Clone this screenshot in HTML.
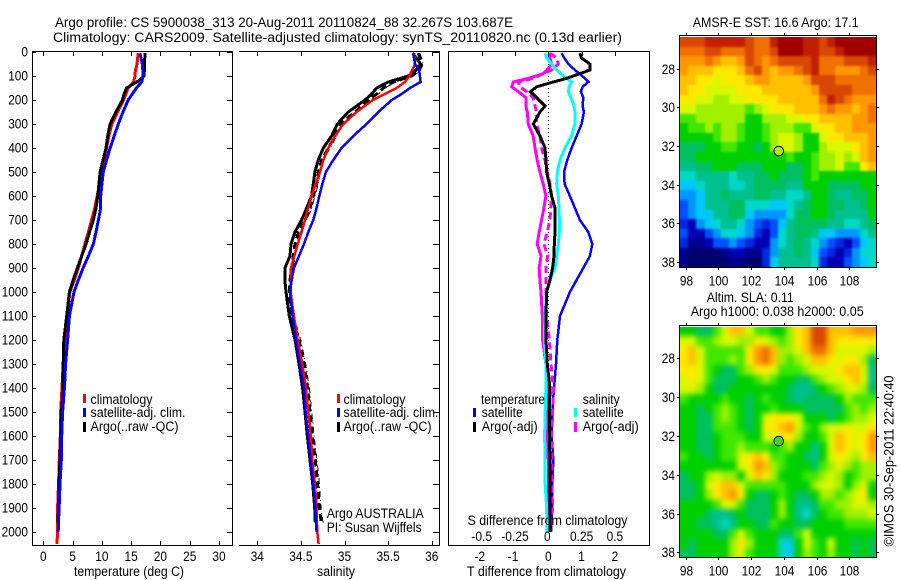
<!DOCTYPE html>
<html lang="en">
<head>
<meta charset="utf-8">
<title>Argo profile</title>
<style>
html,body{margin:0;padding:0;background:#fff;}
svg{display:block;}
text{font-family:"Liberation Sans",sans-serif;font-size:13.5px;fill:#000;}
</style>
</head>
<body>
<svg id="fig" xmlns="http://www.w3.org/2000/svg" width="900" height="580" viewBox="0 0 900 580">
<defs>
<filter id="blur-sst" x="-5%" y="-5%" width="110%" height="110%" color-interpolation-filters="sRGB"><feGaussianBlur stdDeviation="1"/></filter>
<filter id="blur-sla" x="-5%" y="-5%" width="110%" height="110%" color-interpolation-filters="sRGB"><feGaussianBlur stdDeviation="2.6"/></filter>
<clipPath id="clip-sst"><rect x="680" y="37" width="196" height="230"/></clipPath>
<clipPath id="clip-sla"><rect x="680" y="327" width="196" height="230"/></clipPath>
</defs>
<rect x="0" y="0" width="900" height="580" fill="#fff"/>
<text lengthAdjust="spacingAndGlyphs" x="55" y="27" textLength="458">Argo profile: CS 5900038_313 20-Aug-2011 20110824_88 32.267S 103.687E</text>
<text lengthAdjust="spacingAndGlyphs" x="53" y="42" textLength="569">Climatology: CARS2009. Satellite-adjusted climatology: synTS_20110820.nc (0.13d earlier)</text>
<g id="marks"></g>
<g shape-rendering="crispEdges" fill="none" stroke="#000">
<rect x="32.5" y="51.5" width="200" height="494"/>
<path d="M239 51.5H439.5V545.5H239"/>
<rect x="448.5" y="51.5" width="201" height="494"/>
</g>
<g id="ticks"></g>
<text lengthAdjust="spacingAndGlyphs" x="74" y="576" textLength="110">temperature (deg C)</text>
<text lengthAdjust="spacingAndGlyphs" x="317" y="576" textLength="38">salinity</text>
<text lengthAdjust="spacingAndGlyphs" x="467" y="576" textLength="159">T difference from climatology</text>
<text lengthAdjust="spacingAndGlyphs" x="467.5" y="525" textLength="160">S difference from climatology</text>

<g shape-rendering="crispEdges">
<rect x="83" y="394" width="3" height="9" fill="#f00"/>
<rect x="83" y="408" width="3" height="9" fill="#00f"/>
<rect x="83" y="422" width="3" height="10" fill="#000"/>
<rect x="337" y="394" width="3" height="9" fill="#f00"/>
<rect x="337" y="408" width="3" height="9" fill="#00f"/>
<rect x="337" y="422" width="3" height="10" fill="#000"/>
<rect x="473" y="408" width="3" height="9" fill="#00f"/>
<rect x="473" y="422" width="3" height="10" fill="#000"/>
<rect x="574" y="408" width="3" height="9" fill="#0ff"/>
<rect x="574" y="422" width="3" height="10" fill="#f0f"/>
</g>
<text lengthAdjust="spacingAndGlyphs" x="90.5" y="404" textLength="62">climatology</text>
<text lengthAdjust="spacingAndGlyphs" x="90.5" y="417" textLength="95">satellite-adj. clim.</text>
<text lengthAdjust="spacingAndGlyphs" x="90.5" y="431" textLength="88">Argo(..raw -QC)</text>
<text lengthAdjust="spacingAndGlyphs" x="343.5" y="404" textLength="62">climatology</text>
<text lengthAdjust="spacingAndGlyphs" x="343.5" y="417" textLength="95">satellite-adj. clim.</text>
<text lengthAdjust="spacingAndGlyphs" x="343.5" y="431" textLength="88">Argo(..raw -QC)</text>
<text lengthAdjust="spacingAndGlyphs" x="326.7" y="518" textLength="97">Argo AUSTRALIA</text>
<text lengthAdjust="spacingAndGlyphs" x="326.7" y="532" textLength="95">PI: Susan Wijffels</text>
<text lengthAdjust="spacingAndGlyphs" x="481" y="404" textLength="64">temperature</text>
<text lengthAdjust="spacingAndGlyphs" x="582.7" y="404" textLength="37">salinity</text>
<text lengthAdjust="spacingAndGlyphs" x="481.7" y="417" textLength="41">satellite</text>
<text lengthAdjust="spacingAndGlyphs" x="481.7" y="431" textLength="56">Argo(-adj)</text>
<text lengthAdjust="spacingAndGlyphs" x="582.7" y="417" textLength="41">satellite</text>
<text lengthAdjust="spacingAndGlyphs" x="582.7" y="431" textLength="56">Argo(-adj)</text>

<text lengthAdjust="spacingAndGlyphs" x="692.7" y="27" textLength="166">AMSR-E SST: 16.6 Argo: 17.1</text>
<text lengthAdjust="spacingAndGlyphs" x="706.7" y="302" textLength="87">Altim. SLA: 0.11</text>
<text lengthAdjust="spacingAndGlyphs" x="690.7" y="316" textLength="173">Argo h1000: 0.038 h2000: 0.05</text>
<g id="maps"></g>
<text lengthAdjust="spacingAndGlyphs" transform="translate(893.5,546.5) rotate(-90)" x="0" y="0" textLength="171">©IMOS 30-Sep-2011 22:40:40</text>
</svg>

<script>
/* ---------- profile data ---------- */
var depths = [5,50,80,100,125,150,175,200,250,300,350,400,450,500,550,600,650,700,750,800,850,900,950,1000,1100,1200,1300,1400,1500,1600,1700,1800,1900,1960,2000,2050];
var tempClimatology = [16.2,16.0,15.7,15.65,15.4,14.5,14.1,13.7,12.7,11.7,11.2,10.8,10.4,10.0,9.6,9.2,8.8,8.25,7.7,7.1,6.55,6.0,5.3,4.55,4.1,3.7,3.4,3.2,2.96,2.9,2.73,2.6,2.45,2.45,2.45,2.33];
var tempSatellite = [16.5,16.9,17.0,17.0,16.8,15.9,15.2,14.5,13.6,12.8,12.1,11.4,10.8,10.25,10.0,9.8,9.8,9.4,9.0,8.55,7.7,6.8,6.0,5.25,4.45,4.15,3.8,3.6,3.3,3.15,3.07,2.85,2.7,2.6,2.55,null];
var tempArgo = [17.35,17.3,17.25,17.2,16.0,14.2,13.8,13.5,12.4,11.4,11.0,10.7,10.2,9.7,9.5,9.3,9.0,8.55,7.9,7.3,6.55,5.8,5.1,4.45,4.0,3.5,3.4,3.4,3.1,2.95,2.85,2.7,2.6,2.5,null,null];
var salClimatology = [35.80,35.808,35.77,35.743,35.693,35.598,35.464,35.323,35.139,34.986,34.891,34.814,34.757,34.719,34.669,34.623,34.585,34.547,34.508,34.463,34.424,34.386,34.382,34.382,34.42,34.463,34.516,34.558,34.585,34.615,34.631,34.661,34.68,34.684,34.688,34.703];
var salSatellite = [35.789,35.808,35.858,35.865,35.873,35.751,35.655,35.541,35.388,35.254,35.101,34.967,34.872,34.787,34.745,34.711,34.68,34.642,34.585,34.535,34.478,34.42,34.394,34.375,34.405,34.443,34.489,34.535,34.554,34.585,34.612,34.642,34.665,34.673,34.68,null];
var salArgoQc = [35.781,35.873,35.808,35.732,35.502,35.369,35.311,35.235,35.044,34.917,34.852,34.757,34.70,34.661,34.642,34.623,34.566,34.508,34.432,34.386,34.375,34.317,34.317,34.329,34.367,34.432,34.478,34.52,34.547,34.573,34.604,34.635,34.658,34.665,null,null];
var salArgoRaw = [35.846,35.885,35.846,35.77,35.56,35.445,35.369,35.273,35.12,34.948,34.891,34.814,34.738,34.70,34.68,34.642,34.604,34.547,34.47,34.432,34.413,34.394,34.375,34.367,34.394,34.478,34.535,34.577,34.604,34.631,34.665,34.692,34.711,34.734,null,null];

var diffDepths = [5,25,50,75,90,110,125,145,165,190,225,250,300,350,400,450,500,550,600,650,700,750,800,850,900,950,1000,1100,1200,1300,1400,1500,1600,1700,1800,1900,2000];
var tDiffSatellite = [.40,.48,.60,.80,.93,1.10,1.20,1.03,.98,1.05,1.03,1.07,1.00,.85,.70,.57,.47,.49,.65,.80,.95,1.20,1.32,1.25,1.05,.85,.65,.35,.27,.23,.17,.12,.10,.15,.12,.11,.08];
var tDiffArgo = [.95,1.00,1.25,1.25,.95,.55,.15,-.35,-.53,-.35,-.10,-.25,-.45,-.25,-.10,-.07,-.05,.03,.10,.20,.20,.20,.18,.17,.13,.05,-.05,-.07,-.07,-.03,.05,.03,.03,.05,.05,.05,.05];
var sDiffSatellite = [-.025,-.013,.025,.063,.093,.138,.175,.158,.15,.17,.193,.2,.2,.175,.125,.088,.068,.063,.075,.08,.083,.083,.075,.063,.05,.013,-.013,-.025,-.03,-.018,-.018,-.023,-.028,-.023,-.023,-.013,-.008];
var sDiffArgo = [.013,.013,.025,-.008,-.038,-.15,-.263,-.275,-.225,-.168,-.168,-.158,-.15,-.113,-.1,-.083,-.063,-.038,-.018,-.033,-.05,-.068,-.083,-.055,-.068,-.063,-.055,-.045,-.043,-.018,-.008,-.008,-.008,0,0,.008,.008];
var sDiffArgoAdj = [.013,.063,.075,.025,-.038,-.113,-.225,-.213,-.163,-.113,-.1,-.088,-.088,-.063,-.05,-.025,-.008,.013,.025,.018,.013,-.008,-.033,-.005,-.018,-.018,-.018,-.013,.008,.02,.038,.033,.025,.025,.025,.033,.013];

/* ---------- tick labels ---------- */
var depthTicks = [0,100,200,300,400,500,600,700,800,900,1000,1100,1200,1300,1400,1500,1600,1700,1800,1900,2000];
var tempTicks = [0,5,10,15,20,25,30];
var salTicks = [34,34.5,35,35.5,36];
var tDiffTicks = [-2,-1,0,1,2];
var sDiffTicks = [-0.5,-0.25,0,0.25,0.5];
var lonTicks = [98,100,102,104,106,108];
var latTicks = [28,30,32,34,36,38];

/* ---------- map data: colour-scale level per 0.5 degree cell (north to south) ---------- */
var sstGrid = [
[18,18,18,19,19,19,19,19,18,17,17,19,20,20,20,19,19,18,19,20,20,20,20,20],
[17,17,17,18,18,17,17,17,18,17,17,18,20,20,20,19,19,18,18,19,20,20,20,20],
[16,16,16,17,16,15,15,16,18,17,16,17,18,18,18,18,19,17,17,17,18,18,18,19],
[16,15,15,15,14,14,14,15,17,18,16,15,16,16,17,18,19,17,17,16,16,16,17,18],
[15,15,14,14,13,14,14,14,15,16,16,15,15,15,15,16,18,18,18,17,17,17,17,17],
[15,14,14,13,13,13,13,14,14,14,15,15,15,15,15,15,16,18,18,18,18,17,17,17],
[14,14,13,13,12,12,13,13,14,14,14,14,15,15,15,15,15,17,19,18,17,16,16,16],
[13,13,12,12,12,12,12,12,11,12,13,14,14,14,15,15,15,16,17,16,16,15,16,17],
[11,11,12,12,12,12,12,12,10,10,12,12,12,13,13,14,14,15,15,15,15,16,16,17],
[10,11,11,12,11,12,12,11,10,10,11,12,12,12,11,11,13,14,14,15,15,16,16,16],
[10,10,10,10,11,12,12,11,10,10,11,12,13,13,12,10,10,13,14,14,15,15,15,16],
[9,9,9,10,10,11,11,10,10,9,10,12,13,13,12,10,10,12,13,13,13,14,15,16],
[9,9,10,10,10,10,10,10,10,10,10,10,10,11,10,10,11,12,12,13,12,13,15,16],
[8,8,9,9,10,10,10,9,9,9,10,10,10,9,9,10,11,12,12,13,11,11,14,15],
[7,7,8,8,8,8,7,8,8,9,9,10,9,9,9,10,11,10,10,10,10,10,10,10],
[6,6,7,8,8,8,7,7,8,9,9,9,9,8,8,10,10,10,9,9,9,9,10,10],
[5,5,6,8,8,9,8,8,8,9,9,8,8,7,7,8,10,10,9,8,8,9,9,10],
[4,5,6,8,8,8,9,9,7,7,7,6,6,7,8,9,10,10,9,9,8,8,9,10],
[4,5,6,6,8,8,9,9,6,5,5,5,5,7,9,9,10,10,9,8,8,8,8,10],
[3,2,5,6,7,8,8,7,5,4,3,4,6,8,9,9,9,9,8,8,7,7,8,9],
[4,2,2,4,5,7,7,6,5,3,2,4,7,8,9,9,8,6,6,5,5,5,7,8],
[3,1,1,2,4,4,5,4,3,2,2,5,7,8,9,8,7,5,4,3,2,4,6,7],
[1,0,0,0,0,1,2,2,1,1,3,5,8,8,9,8,6,4,3,2,3,5,7,7],
[1,0,0,0,0,0,1,1,0,0,3,6,8,8,8,8,7,3,2,2,4,5,6,7]
];
var slaGrid = [
[10,10,9,9,11,13,15,15,13,11,11,10,10,12,14,15,18,18,15,15,15,16,16,16],
[13,13,11,11,12,13,13,12,12,14,13,12,11,12,14,15,18,18,15,14,14,14,14,14],
[14,15,13,11,11,11,11,11,14,16,17,15,12,12,13,15,17,17,15,13,13,13,13,12],
[14,15,13,11,11,11,12,11,14,16,17,15,12,11,12,13,15,15,14,13,14,14,12,9],
[14,14,13,11,10,9,9,11,12,14,14,13,11,11,11,12,13,13,13,14,15,15,13,8],
[13,14,13,11,9,9,9,10,10,11,12,11,10,10,9,9,11,12,13,13,14,15,13,8],
[13,13,12,10,9,9,10,10,10,10,10,10,10,9,8,8,9,10,11,12,13,13,12,9],
[11,10,10,10,10,11,10,10,9,10,11,10,10,9,8,9,9,9,9,10,12,11,11,11],
[10,10,9,10,11,12,11,10,9,10,10,11,10,10,10,9,9,9,9,9,11,12,11,12],
[10,10,9,9,11,12,11,10,9,10,13,14,14,14,13,10,10,10,9,10,11,12,12,13],
[10,10,9,9,11,11,11,10,9,10,14,14,15,16,13,11,10,12,13,13,14,13,13,14],
[10,10,9,9,10,11,11,11,10,10,13,13,14,14,12,10,10,11,13,15,14,13,14,16],
[10,10,9,9,10,11,11,12,11,11,11,10,11,12,10,10,8,10,13,15,14,13,14,16],
[11,10,10,9,10,11,11,13,14,15,14,11,11,10,10,9,8,10,13,14,13,12,14,15],
[10,10,10,10,10,10,10,13,14,16,15,12,11,10,10,10,9,11,12,13,12,11,12,12],
[9,10,10,12,13,12,12,10,13,15,14,12,10,10,10,11,11,12,13,12,10,11,12,12],
[9,9,10,13,14,15,15,13,11,11,11,11,11,10,10,10,12,13,13,12,10,12,13,10],
[9,9,10,12,14,15,16,14,10,9,9,10,11,10,9,9,10,12,12,11,12,13,14,10],
[10,10,10,10,11,13,13,11,9,9,9,10,12,10,8,8,9,11,11,12,12,13,13,12],
[10,10,10,9,8,8,9,10,9,9,9,10,12,10,8,7,9,10,11,11,12,12,12,13],
[10,10,9,9,8,7,8,10,10,9,9,11,10,10,9,9,10,10,10,10,11,11,11,11],
[10,10,10,10,9,9,11,13,11,10,10,10,9,9,11,13,10,10,10,10,10,10,10,10],
[10,9,10,10,10,10,12,14,12,10,10,10,7,6,10,13,11,10,13,10,10,9,10,9],
[9,9,10,10,10,10,12,13,11,10,10,10,7,6,10,12,11,10,12,10,10,9,10,9]
];
var colourLevels = ["#00006e","#00008c","#0000b4","#0028dc","#0050ff","#0096ff","#00c8ff","#00d8c8","#00c090","#00c060","#00d000","#40e800","#a0f000","#d8f800","#ffe800","#ffc000","#ff9800","#f07000","#d84800","#c02000","#a00000"];
var profileLon = 103.687;
var profileLat = 32.267;

/* ---------- axis functions ---------- */
var SVGNS = "http://www.w3.org/2000/svg";
function yDepth(d){ return 52 + 0.24 * d; }
function xTemp(t){ return 43.3 + 5.857 * t; }
function xSal(s){ return 257.3 + 87.2 * (s - 34); }
function xTDiff(t){ return 548.3 + 33.3 * t; }
function xSDiff(s){ return 548.3 + 133.2 * s; }
function xLon(lon){ return 685.7 + 16.36 * (lon - 98); }
function yLatTop(lat){ return 68.7 + 19.3 * (lat - 28); }
function yLatBottom(lat){ return 358.3 + 19.4 * (lat - 28); }

function make(tag, parent){
  var el = document.createElementNS(SVGNS, tag);
  parent.appendChild(el);
  return el;
}
function pathFrom(xs, ds, xScale){
  var d = "", pen = false;
  for (var i = 0; i < xs.length; i++){
    if (xs[i] === null){ pen = false; continue; }
    d += (pen ? "L" : "M") + xScale(xs[i]).toFixed(1) + " " + yDepth(ds[i]).toFixed(1);
    pen = true;
  }
  return d;
}
function styleLine(el, xs, ds, xScale, colour, width, dash){
  el.setAttribute("d", pathFrom(xs, ds, xScale));
  el.setAttribute("fill", "none");
  el.setAttribute("stroke", colour);
  el.setAttribute("stroke-width", width);
  el.setAttribute("shape-rendering", "crispEdges");
  if (dash) el.setAttribute("stroke-dasharray", dash);
}
function styleTick(el, x1, y1, x2, y2){
  el.setAttribute("x1", x1); el.setAttribute("y1", y1);
  el.setAttribute("x2", x2); el.setAttribute("y2", y2);
  el.setAttribute("stroke", "#000");
  el.setAttribute("shape-rendering", "crispEdges");
}
function labelWidth(txt){
  var w = 0;
  for (var i = 0; i < txt.length; i++){
    var ch = txt.charAt(i);
    w += ch === "." ? 3.4 : ch === "-" ? 4.2 : 6.6;
  }
  return w;
}
function styleLabel(el, x, y, anchor, txt){
  el.setAttribute("x", x); el.setAttribute("y", y);
  el.setAttribute("text-anchor", anchor);
  el.setAttribute("textLength", labelWidth(txt));
  el.setAttribute("lengthAdjust", "spacingAndGlyphs");
  el.textContent = txt;
}

var marks = document.getElementById("marks");
var ticks = document.getElementById("ticks");
var maps = document.getElementById("maps");
var el;

/* temperature series */
el = make("path", marks);


styleLine(el, tempClimatology, depths, xTemp, "#f00", 3);
el = make("path", marks);


styleLine(el, tempArgo, depths, xTemp, "#000", 3);
el = make("path", marks);


styleLine(el, tempSatellite, depths, xTemp, "#00f", 3);

/* salinity series */
el = make("path", marks);


styleLine(el, salArgoRaw, depths, xSal, "#000", 3, "7 4");
el = make("path", marks);


styleLine(el, salArgoRaw.map(function(v){ return v === null ? null : v + 0.02; }), depths, xSal, "#000", 1, "6 3 1 3");
el = make("path", marks);


styleLine(el, salArgoQc, depths, xSal, "#000", 3);
el = make("path", marks);


styleLine(el, salClimatology, depths, xSal, "#f00", 2.5);
el = make("path", marks);


styleLine(el, salSatellite, depths, xSal, "#00f", 2.5);

/* difference series */
el = make("path", marks);


el.setAttribute("d", "M" + xTDiff(0) + " " + yDepth(0) + "V" + yDepth(2000));
el.setAttribute("stroke", "#000");
el.setAttribute("stroke-dasharray", "1 3");
el.setAttribute("fill", "none");
el.setAttribute("shape-rendering", "crispEdges");
el = make("path", marks);


styleLine(el, tDiffSatellite, diffDepths, xTDiff, "#00f", 2.5);
el = make("path", marks);


styleLine(el, sDiffArgo, diffDepths, xSDiff, "#f0f", 3);
el = make("path", marks);


styleLine(el, sDiffArgoAdj, diffDepths, xSDiff, "#f0f", 3, "7 4");
el = make("path", marks);


styleLine(el, sDiffSatellite, diffDepths, xSDiff, "#0ff", 3);
el = make("path", marks);


styleLine(el, tDiffArgo, diffDepths, xTDiff, "#000", 3);

/* depth ticks */
depthTicks.forEach(function(d){
  var y = Math.round(yDepth(d)) + 0.5;
  var t = make("line", ticks);
  
  
  styleTick(t, 33, y, 36, y);
  t = make("line", ticks);
  
  
  styleTick(t, 227, y, 232, y);
  t = make("line", ticks);
  
  
  styleTick(t, 433, y, 439, y);
  var l = make("text", ticks);
  
  
  styleLabel(l, 28, yDepth(d) + 4.5, "end", String(d));
});
tempTicks.forEach(function(v){
  var x = Math.round(xTemp(v)) + 0.5;
  var t = make("line", ticks);
  
  
  styleTick(t, x, 52, x, 56);
  t = make("line", ticks);
  
  
  styleTick(t, x, 541, x, 545);
  var l = make("text", ticks);
  
  
  styleLabel(l, xTemp(v), 561, "middle", String(v));
});
salTicks.forEach(function(v){
  var x = Math.round(xSal(v)) + 0.5;
  var t = make("line", ticks);
  
  
  styleTick(t, x, 52, x, 56);
  t = make("line", ticks);
  
  
  styleTick(t, x, 541, x, 545);
  var l = make("text", ticks);
  
  
  styleLabel(l, xSal(v), 561, "middle", String(v));
});
tDiffTicks.forEach(function(v){
  var x = Math.round(xTDiff(v)) + 0.5;
  var t = make("line", ticks);
  
  
  styleTick(t, x, 52, x, 56);
  var l = make("text", ticks);
  
  
  styleLabel(l, xTDiff(v) - (v < 0 ? 2 : 0), 561, "middle", String(v));
});
sDiffTicks.forEach(function(v){
  var l = make("text", ticks);
  
  
  styleLabel(l, xSDiff(v) - (v === 0 ? 1 : 0), 541, "middle", String(v));
});

/* maps */
function drawMap(prefix, key, grid, frameTop, frameBottom, yLat, marker){
  var lonStart = 97.65, lonStep = 0.5, latStart = 26.36, latStep = 0.4965;
  var clipGroup = make("g", maps);
  clipGroup.setAttribute("clip-path", "url(#clip-" + key + ")");
  var cells = make("g", clipGroup);
  
  
  cells.setAttribute("filter", "url(#blur-" + key + ")");
  grid.forEach(function(row, r){
    row.forEach(function(level, c){
      var x0 = Math.round(xLon(lonStart + c * lonStep));
      var x1 = Math.round(xLon(lonStart + (c + 1) * lonStep));
      var y0 = Math.round(yLat(latStart + r * latStep));
      var y1 = Math.round(yLat(latStart + (r + 1) * latStep));
      if (c === 0) x0 -= 9;
      if (c === row.length - 1) x1 += 9;
      if (r === 0) y0 -= 9;
      if (r === grid.length - 1) y1 += 9;
      var cell = make("rect", cells);
      
      
      cell.setAttribute("x", x0);
      cell.setAttribute("y", y0);
      cell.setAttribute("width", x1 - x0);
      cell.setAttribute("height", y1 - y0);
      cell.setAttribute("fill", colourLevels[level]);
      cell.setAttribute("shape-rendering", "crispEdges");
    });
  });
  var frame = make("rect", maps);
  
  
  frame.setAttribute("x", 679.5);
  frame.setAttribute("y", frameTop + 0.5);
  frame.setAttribute("width", 197);
  frame.setAttribute("height", frameBottom - frameTop);
  frame.setAttribute("fill", "none");
  frame.setAttribute("stroke", "#000");
  frame.setAttribute("shape-rendering", "crispEdges");
  lonTicks.forEach(function(lon){
    var x = Math.round(xLon(lon)) + 0.5;
    var t = make("line", maps);
    
    
    styleTick(t, x, frameTop - 2, x, frameTop);
    t = make("line", maps);
    
    
    styleTick(t, x, frameBottom + 1, x, frameBottom + 3);
    var l = make("text", maps);
    
    
    styleLabel(l, x, frameBottom + 18.5, "middle", String(lon));
  });
  latTicks.forEach(function(lat){
    var y = Math.round(yLat(lat)) + 0.5;
    var t = make("line", maps);
    
    
    styleTick(t, 677, y, 679, y);
    t = make("line", maps);
    
    
    styleTick(t, 877, y, 879, y);
    var l = make("text", maps);
    
    
    styleLabel(l, 675, y + 4.5, "end", String(lat));
  });
  var dot = make("circle", maps);
  
  
  dot.setAttribute("cx", xLon(profileLon));
  dot.setAttribute("cy", yLat(profileLat));
  dot.setAttribute("r", 4.8);
  dot.setAttribute("fill", marker);
  dot.setAttribute("stroke", "#000");
  dot.setAttribute("stroke-width", 1);
}
drawMap("sst", "sst", sstGrid, 35, 267, yLatTop, "#a8f000");
drawMap("steric-height", "sla", slaGrid, 325, 557, yLatBottom, "#40d820");
</script>
</body>
</html>
